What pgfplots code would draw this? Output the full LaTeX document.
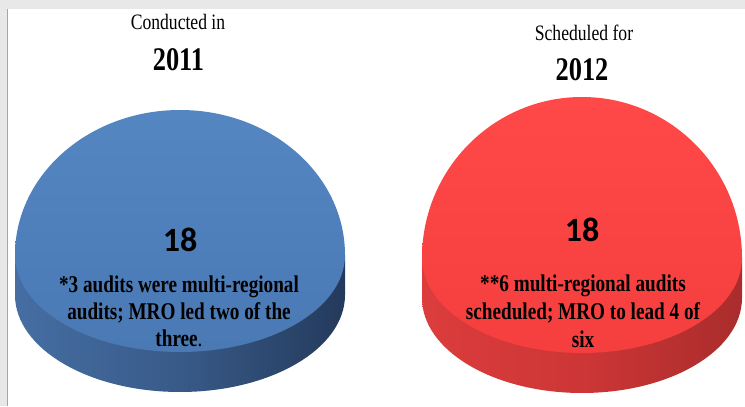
\documentclass[border=0pt]{standalone}
\usepackage{pgfplots}
\pgfplotsset{compat=1.18}
\usepackage{fontspec}
\setmainfont{Liberation Serif}
\newfontfamily\condserif[FakeStretch=0.8]{Liberation Serif}
\newfontfamily\calib{Carlito}
\definecolor{bluetop}{RGB}{84,134,194}
\definecolor{bluebot}{RGB}{74,121,180}
\definecolor{bluesideA}{RGB}{70,110,163}
\definecolor{bluesideB}{RGB}{56,90,136}
\definecolor{bluesideC}{RGB}{36,58,92}
\definecolor{redtop}{RGB}{255,72,72}
\definecolor{redbot}{RGB}{245,62,62}
\definecolor{redsideA}{RGB}{220,60,60}
\definecolor{redsideB}{RGB}{205,54,54}
\definecolor{redsideC}{RGB}{170,44,44}
\definecolor{frame}{RGB}{232,232,232}
\begin{document}
\begin{tikzpicture}
\begin{axis}[
  width=745pt, height=406pt, scale only axis,
  xmin=0, xmax=745, ymin=0, ymax=406,
  hide axis, clip=false,
]
% background
\fill[white] (axis cs:0,0) rectangle (axis cs:745,406);
\fill[frame] (axis cs:0,397) rectangle (axis cs:745,406);
\fill[frame] (axis cs:0,0) rectangle (axis cs:8,397);
\draw[gray!70, line width=0.8pt] (axis cs:7.5,0) -- (axis cs:7.5,397);
% blue disc (2011): centre (180,151), rx 165, upper ry 145, lower ry 97, thickness 40
\shade[left color=bluesideA, right color=bluesideC, middle color=bluesideB]
  (axis cs:15,151) -- (axis cs:15,111)
  arc[start angle=180, end angle=360, x radius=165pt, y radius=97pt]
  -- (axis cs:345,151) -- cycle;
\shade[top color=bluetop, bottom color=bluebot]
  (axis cs:345,151)
  arc[start angle=0, end angle=180, x radius=165pt, y radius=145pt]
  arc[start angle=180, end angle=360, x radius=165pt, y radius=97pt] -- cycle;
% red disc (2012): centre (582,148), rx 160, upper ry 161, lower ry 95, thickness 40
\shade[left color=redsideA, right color=redsideC, middle color=redsideB]
  (axis cs:422,148) -- (axis cs:422,108)
  arc[start angle=180, end angle=360, x radius=160pt, y radius=95pt]
  -- (axis cs:742,148) -- cycle;
\shade[top color=redtop, bottom color=redbot]
  (axis cs:742,148)
  arc[start angle=0, end angle=180, x radius=160pt, y radius=161pt]
  arc[start angle=180, end angle=360, x radius=160pt, y radius=95pt] -- cycle;
% values
\addplot[draw=none, mark=none, nodes near coords, point meta=explicit symbolic,
  every node near coord/.append style={anchor=center, font=\calib\bfseries\fontsize{34}{38}\selectfont, text=black}]
  coordinates {(180,166)[18] (582,176)[18]};
% titles
\node[font=\condserif\fontsize{22}{24}\selectfont] at (axis cs:178,384) {Conducted in};
\node[font=\condserif\bfseries\fontsize{33}{36}\selectfont] at (axis cs:178.5,346) {2011};
\node[font=\condserif\fontsize{22}{24}\selectfont] at (axis cs:584,373) {Scheduled for};
\node[font=\condserif\bfseries\fontsize{33}{36}\selectfont] at (axis cs:582,336) {2012};
% notes
\node[font=\condserif\bfseries\fontsize{24}{27}\selectfont, align=center] at (axis cs:179,95)
  {*3 audits were multi-regional\\audits; MRO led two of the\\three\textmd{.}};
\node[font=\condserif\bfseries\fontsize{24}{28}\selectfont, align=center] at (axis cs:583,95)
  {**6 multi-regional audits\\scheduled; MRO to lead 4 of\\six};
\end{axis}
\end{tikzpicture}
\end{document}
